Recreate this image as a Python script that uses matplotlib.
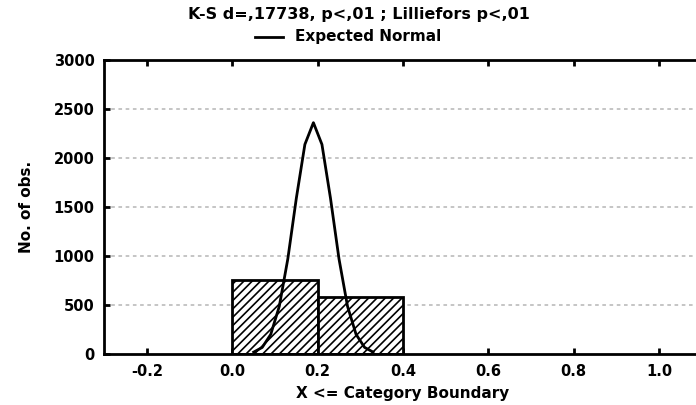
"""
K-S histogram with expected normal curve.
"""
import matplotlib.pyplot as plt

plt.rcParams["font.family"] = ["DejaVu Sans"]
plt.rcParams["font.weight"] = "bold"
plt.rcParams["axes.labelweight"] = "bold"
plt.rcParams["hatch.linewidth"] = 1.2

# histogram bins (left edge, width) and counts
bin_left = [0.0, 0.2]
bin_width = [0.2, 0.2]
counts = [755, 582]

# expected normal curve
curve_x = [0.05, 0.07, 0.09, 0.11, 0.13, 0.15, 0.17, 0.19,
           0.21, 0.23, 0.25, 0.27, 0.29, 0.31, 0.33]
curve_y = [19, 67, 200, 486, 970, 1590, 2138, 2360,
           2138, 1590, 970, 486, 200, 67, 19]

xticks = [-0.2, 0.0, 0.2, 0.4, 0.6, 0.8, 1.0]
yticks = [0, 500, 1000, 1500, 2000, 2500, 3000]

title = "K-S d=,17738, p<,01 ; Lilliefors p<,01"
legend_label = "Expected Normal"

FS = 10.5

fig = plt.figure(figsize=(6.96, 4.05), dpi=100)
ax = fig.add_axes([0.150, 0.126, 0.858, 0.726])

ax.bar(bin_left, counts, width=bin_width, align="edge", color="white",
       edgecolor="black", linewidth=2, hatch="////", zorder=2)
ax.plot(curve_x, curve_y, color="black", linewidth=2, zorder=3)

ax.set_xlim(-0.3, 1.1)
ax.set_ylim(0, 3000)
ax.set_xticks(xticks)
ax.set_xticklabels([f"{t:.1f}" for t in xticks])
ax.set_yticks(yticks)
ax.tick_params(direction="in", length=4, width=2, top=True, right=True,
               labelsize=FS, pad=7)

for y in yticks[1:-1]:
    ax.axhline(y, color="#c0c0c0", linewidth=1.3, linestyle=(0, (2, 2)), zorder=1)

for s in ax.spines.values():
    s.set_linewidth(2)

ax.set_xlabel("X <= Category Boundary", fontsize=11, labelpad=5)
ax.set_ylabel("No. of obs.", fontsize=11, labelpad=14)

fig.text(0.515, 0.963, title, ha="center", va="center", fontsize=11.5)
fig.lines.append(plt.Line2D([0.367, 0.407], [0.909, 0.909], color="black",
                            linewidth=2, transform=fig.transFigure))
fig.text(0.424, 0.909, legend_label, ha="left", va="center", fontsize=11)

plt.savefig("out.png", dpi=100)
plt.close()
